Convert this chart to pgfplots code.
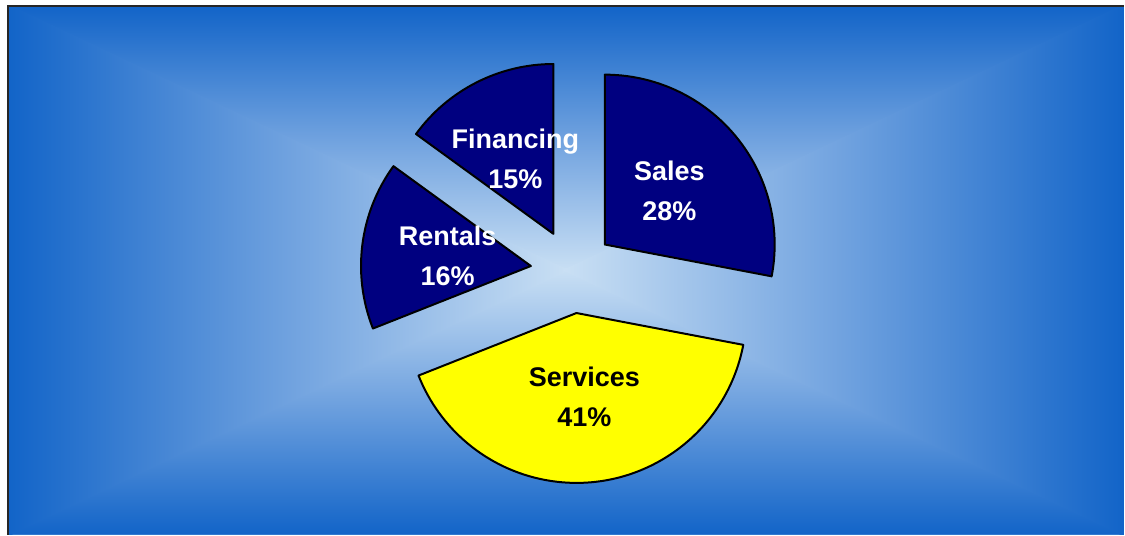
\documentclass[border=0pt]{standalone}
\usepackage{pgfplots}
\pgfplotsset{compat=1.18}
\usepackage{pgfplotstable}
\usepackage{fontspec}
\setmainfont{Liberation Sans}

\definecolor{navy}{RGB}{0,0,128}
\definecolor{pieyellow}{RGB}{255,255,0}
\definecolor{bgedge}{RGB}{18,100,200}
\definecolor{bgmid}{RGB}{112,162,223}
\definecolor{bgcen}{RGB}{202,224,244}

% colours at 25bp..75bp so TikZ fits the path bbox to them
\pgfdeclareverticalshading{bgfade}{100bp}{color(0bp)=(bgcen); color(25bp)=(bgcen);
  color(50bp)=(bgmid); color(75bp)=(bgedge); color(100bp)=(bgedge)}

% slice shares in percent, cumulative start, fill and label colour
\pgfplotstableread{
name      value start fill      text
Sales     28    0     navy      white
Services  41    28    pieyellow black
Rentals   16    69    navy      white
Financing 15    85    navy      white
}\piedata

\def\cx{573}\def\cy{263.5}\def\dd{42}\def\lr{126}

% #1 start, #2 value, #3 fill, #4 text colour, #5 name
\newcommand\slice[5]{%
  \filldraw[fill=#3, draw=black, line width=1pt, line join=round]
    (axis cs:{\cx+\dd*cos(90-3.6*(#1+#2/2))},{\cy+\dd*sin(90-3.6*(#1+#2/2))})
    -- ++({90-3.6*#1}:85pt)
    arc[start angle={90-3.6*#1}, end angle={90-3.6*(#1+#2)}, radius=85pt] -- cycle;
  \node[text=#4, align=center, font=\bfseries\fontsize{13.5}{20}\selectfont]
    at (axis cs:{\cx+\lr*cos(90-3.6*(#1+#2/2))},{\cy+\lr*sin(90-3.6*(#1+#2/2))})
    {#5\\#2\%};
}

\begin{document}
\begin{tikzpicture}
\begin{axis}[
    x=0.5pt, y=0.5pt,
    xmin=0, xmax=1125, ymin=0, ymax=535,
    hide axis, clip=false,
]
% page and background (side pieces overlap the diagonals to hide seams)
\fill[white] (axis cs:0,0) rectangle (axis cs:1125,535);
\begin{scope}
\clip (axis cs:8,0) rectangle (axis cs:1125,529);
\fill[bgmid] (axis cs:8,0) rectangle (axis cs:1125,529);
\shade[shading=bgfade, shading angle=0]   (axis cs:8,529) -- (axis cs:1125,529) -- (axis cs:566.5,262) -- cycle;
\shade[shading=bgfade, shading angle=180] (axis cs:8,0) -- (axis cs:1125,0) -- (axis cs:566.5,267) -- cycle;
\shade[shading=bgfade, shading angle=90]  (axis cs:8,-2) -- (axis cs:8,531) -- (axis cs:570,264.5) -- cycle;
\shade[shading=bgfade, shading angle=270] (axis cs:1125,-2) -- (axis cs:1125,531) -- (axis cs:563,264.5) -- cycle;
\end{scope}
\draw[black!85, line width=1pt] (axis cs:8,0) -- (axis cs:8,529) -- (axis cs:1125,529);

\pgfplotsforeachungrouped \i in {0,...,3}{%
  \pgfplotstablegetelem{\i}{start}\of\piedata \let\ps\pgfplotsretval
  \pgfplotstablegetelem{\i}{value}\of\piedata \let\pv\pgfplotsretval
  \pgfplotstablegetelem{\i}{fill}\of\piedata  \let\pf\pgfplotsretval
  \pgfplotstablegetelem{\i}{text}\of\piedata  \let\pt\pgfplotsretval
  \pgfplotstablegetelem{\i}{name}\of\piedata  \let\pn\pgfplotsretval
  \edef\temp{\noexpand\slice{\ps}{\pv}{\pf}{\pt}{\pn}}\temp
}
\end{axis}
\end{tikzpicture}
\end{document}
